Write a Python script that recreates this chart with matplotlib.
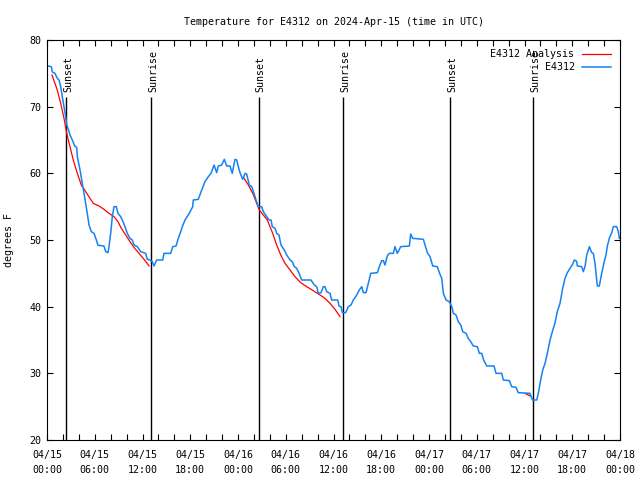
import numpy as np
import pandas as pd
import matplotlib
matplotlib.use("Agg")
import matplotlib.pyplot as plt
import matplotlib.dates as mdates
from matplotlib.ticker import MultipleLocator

plt.rcParams['font.family'] = 'DejaVu Sans Mono'
plt.rcParams['font.size'] = 7.2

start = pd.Timestamp('2024-04-15 00:00')

# observed E4312 temperature (hours since 04/15 00:00 UTC, deg F)
obs_hours = [0.13, 0.54, 0.67, 1.0, 1.29, 1.51, 1.72, 1.92, 2.14, 2.35, 2.48, 2.64, 2.89, 3.18, 3.48,
             3.73, 3.81, 4.15, 4.44, 4.65, 4.86, 5.06, 5.28, 5.57, 5.91, 6.2, 6.41, 7.16, 7.38, 7.67,
             7.79, 8.0, 8.21, 8.42, 8.71, 8.92, 9.26, 9.55, 9.8, 10.09, 10.43, 10.72, 10.93, 11.35, 11.77,
             12.4, 12.6, 12.94, 13.23, 13.45, 13.78, 14.54, 14.7, 15.54, 15.8, 16.21, 16.5, 16.8, 17.0,
             17.34, 17.88, 18.31, 18.38, 19.01, 19.44, 19.85, 20.27, 20.61, 20.99, 21.32, 21.53, 21.95,
             22.28, 22.58, 23.0, 23.28, 23.62, 23.84, 24.04, 24.25, 24.59, 24.88, 25.09, 25.42, 25.72,
             26.01, 26.26, 26.55, 26.98, 27.18, 27.61, 27.9, 28.15, 28.31, 28.65, 28.86, 29.15, 29.4,
             29.82, 30.12, 30.54, 30.82, 31.08, 31.38, 31.67, 32.0, 33.17, 33.59, 33.89, 34.09, 34.43,
             34.72, 34.93, 35.15, 35.56, 35.77, 36.53, 36.69, 36.94, 37.11, 37.53, 37.86, 38.2, 38.49,
             38.92, 39.24, 39.55, 39.75, 40.09, 40.37, 40.68, 41.51, 41.76, 42.06, 42.26, 42.47, 42.76,
             43.01, 43.52, 43.73, 44.02, 44.45, 45.53, 45.7, 45.95, 47.29, 47.5, 47.79, 48.13, 48.47,
             49.05, 49.3, 49.6, 49.8, 50.14, 50.55, 50.86, 51.06, 51.4, 51.68, 51.99, 52.24, 52.65,
             52.94, 53.24, 53.57, 54.07, 54.33, 54.63, 54.83, 55.25, 56.17, 56.42, 57.14, 57.34, 58.1,
             58.39, 58.93, 59.22, 60.69, 60.91, 61.03, 61.54, 61.74, 61.95, 62.29, 62.58, 62.87, 63.21,
             63.5, 63.84, 64.12, 64.46, 64.8, 65.09, 65.38, 65.72, 66.06, 66.26, 66.56, 66.64, 67.19,
             67.39, 67.6, 67.82, 68.15, 68.45, 68.65, 68.86, 69.07, 69.15, 69.4, 69.7, 69.99, 70.24,
             70.41, 70.66, 70.96, 71.16, 71.59, 71.79, 71.92]
obs_temp = [76.1, 76.0, 75.2, 75.0, 74.25, 74.0, 73, 71.5, 70, 68.5, 67.25, 66.75, 65.75, 65, 64.1,
            63.9, 62.5, 60.5, 58.5, 57, 55.5, 54, 52.25, 51.25, 51, 50, 49.2, 49.1, 48.25, 48.1,
            49, 51, 53.5, 55, 55, 54, 53.5, 52.75, 52, 51, 50.25, 50, 49.25, 49, 48.25,
            48, 47.1, 47, 46.75, 46.1, 47, 47, 48, 48, 49, 49.1, 50.25, 51.25, 52,
            53, 54, 55, 56, 56.1, 57.5, 58.75, 59.5, 60, 61.25, 60.1, 61.1, 61.25,
            62.1, 61.1, 61.1, 60, 62.1, 62, 61, 60.1, 59.1, 60, 59.9, 58.25, 58,
            57, 56, 55, 55, 54.25, 53.5, 53, 53, 52, 51.75, 51, 50.75, 49.25,
            48.5, 47.75, 47, 46.75, 46, 45.75, 45, 44, 44, 43.25, 43, 42, 42.1,
            43, 43, 42.25, 42, 41, 41, 40.1, 40, 39.1, 39.1, 40, 40.25, 41,
            41.75, 42.5, 43, 42.1, 42.1, 43.5, 45, 45.1, 46, 46.9, 46.9, 46.25, 47.6,
            48, 48, 49, 48, 49, 49.1, 50.9, 50.25, 50.1, 49.25, 48.1, 47.5, 46.1,
            46, 45.1, 44.25, 42, 41, 40.75, 40, 39, 38.75, 37.75, 37.25, 36.25, 36,
            35.25, 34.75, 34.1, 34, 33, 33, 32.1, 31.1, 31.1, 30, 30, 29, 28.9,
            28, 27.9, 27.1, 27, 26.25, 26, 26, 27, 28.5, 30.5, 31.5, 33, 35,
            36.25, 37.6, 39.25, 40.5, 42.75, 44.25, 45.1, 45.75, 46.4, 47, 46.8, 46.1, 46,
            45.25, 46, 47.75, 49, 48.1, 48, 46.5, 44, 43.1, 43.1, 45, 46.6, 47.75,
            49.1, 50.25, 51.1, 52, 52, 51.25, 50.25]

# analysis series (gaps as NaN)
ana_hours = [0.63, 1.29, 1.72, 2.14, 2.48, 2.89, 3.3, 3.81, 4.31, 4.86, 5.4, 5.82, 6.53, 7.16, 7.79,
             8.42, 8.92, 9.34, 9.89, 10.43, 11.02, 11.56, 12.19, 12.82, 18.0,
             24.76, 25.3, 25.85, 26.35, 26.68, 27.18, 27.68, 28.02, 28.36, 28.86, 29.37, 29.91, 30.54,
             31.16, 31.88, 32.63, 33.46, 34.31, 34.93, 35.56, 36.19, 36.82, 48.0,
             60.07, 60.69]
ana_temp = [74.75, 72.5, 70.5, 68.25, 66, 64, 62, 60, 58.25, 57.25, 56.25, 55.5, 55.1, 54.6, 54,
            53.5, 52.75, 51.75, 50.75, 49.75, 48.75, 48, 47.1, 46.1, np.nan,
            59.25, 58.25, 57, 55.5, 54.5, 53.75, 53, 52, 51, 49.25, 47.75, 46.5, 45.5,
            44.5, 43.6, 43, 42.4, 41.75, 41.25, 40.5, 39.6, 38.5, np.nan,
            27.0, 26.6]

sun_hours = [2.45, 13.07, 26.58, 37.2, 50.64, 61.07]
sun_labels = ['Sunset', 'Sunrise', 'Sunset', 'Sunrise', 'Sunset', 'Sunrise']
sun_top = 71.5

obs_t = start + pd.to_timedelta(obs_hours, unit='h')
ana_t = start + pd.to_timedelta(ana_hours, unit='h')
sun_t = start + pd.to_timedelta(sun_hours, unit='h')

fig = plt.figure(figsize=(6.4, 4.8), dpi=100)
ax = fig.add_axes([47/640, 40/480, 573/640, 400/480])

ax.vlines(sun_t, 20, sun_top, color='black', lw=1.0)
for t, lab in zip(sun_t, sun_labels):
    ax.annotate(lab, (t, sun_top), xytext=(1.5, 3), textcoords='offset points',
                rotation=90, ha='center', va='bottom')

ax.plot(ana_t, ana_temp, color='#ff0000', lw=0.9, label='E4312 Analysis')
ax.plot(obs_t, obs_temp, color='#1482f0', lw=1.1, label='E4312')

ax.set_xlim(start, start + pd.Timedelta(hours=72))
ax.set_ylim(20, 80)
ax.xaxis.set_major_locator(mdates.HourLocator(byhour=[0, 6, 12, 18]))
ax.xaxis.set_minor_locator(mdates.HourLocator(byhour=range(0, 24, 2)))
ax.xaxis.set_major_formatter(mdates.DateFormatter('%m/%d\n%H:%M'))
ax.yaxis.set_major_locator(MultipleLocator(10))
ax.tick_params(which='both', direction='in', top=True, right=True, length=4, width=0.8, pad=7)
ax.tick_params(axis='y', pad=4)
for tk in ax.xaxis.get_major_ticks():
    tk.label1.set_linespacing(1.65)
for s in ax.spines.values():
    s.set_linewidth(0.8)

ax.set_title('Temperature for E4312 on 2024-Apr-15 (time in UTC)', fontsize=7.2, pad=11)
ax.set_ylabel('degrees F')
ax.yaxis.set_label_coords(-0.058, 0.5)

ax.legend(loc='upper right', frameon=False, markerfirst=False, handlelength=2.9,
          borderpad=0, borderaxespad=0.95, labelspacing=0.3, handletextpad=0.7)

fig.savefig('out.png', dpi=100)
